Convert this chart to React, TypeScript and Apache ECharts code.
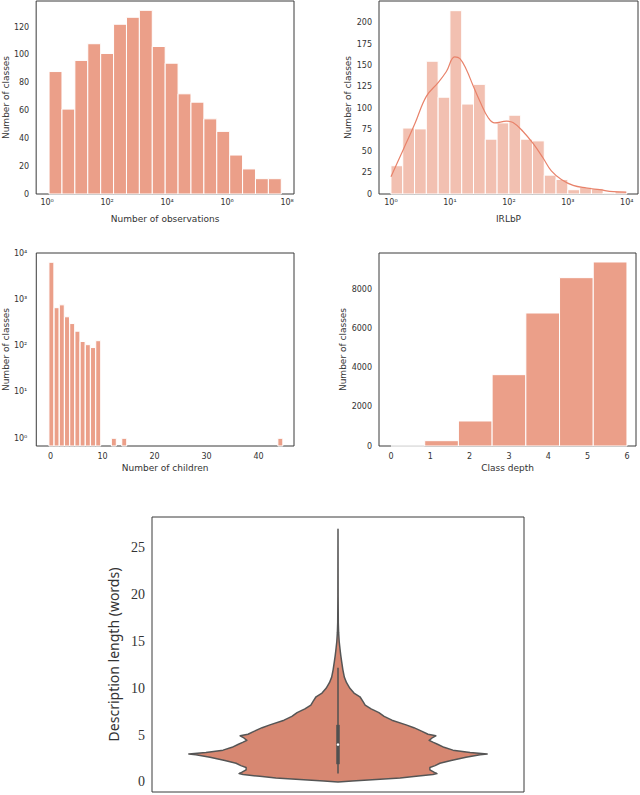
import React, { useEffect, useRef } from "react";
import * as echarts from "echarts";

// ---- Chart 1: Number of observations (log10 bins) ----
const OBS_BIN_START = 0.066;
const OBS_BIN_WIDTH = 0.43;
const OBS_COUNTS = [88, 61, 96, 108, 101, 122, 127, 132, 106, 94, 72, 66, 54, 45, 28, 18, 11, 11];
const OBS_X_TICKS = [0, 2, 4, 6, 8];
const OBS_Y_TICKS = [0, 20, 40, 60, 80, 100, 120];

// ---- Chart 2: IRLbP (log10 bins) with KDE ----
const IRL_BIN_START = 0;
const IRL_BIN_WIDTH = 0.2;
const IRL_COUNTS = [33, 77, 76, 155, 113, 214, 105, 128, 64, 83, 92, 64, 62, 22, 17, 5, 8, 6, 1, 3];
const IRL_KDE_X = [0, 0.21, 0.41, 0.6, 0.8, 0.94, 1.08, 1.17, 1.28, 1.39, 1.51, 1.65, 1.76, 1.96, 2.07, 2.24, 2.41, 2.58, 2.72, 2.89, 3.09, 3.32, 3.54, 3.77, 3.99];
const IRL_KDE_Y = [20, 52, 83, 114, 130, 143, 160, 158, 145, 127, 108, 89, 83, 85, 83.5, 73, 59, 42, 27, 17, 10, 7, 5, 2.7, 2.3];
const IRL_X_TICKS = [0, 1, 2, 3, 4];
const IRL_Y_TICKS = [0, 25, 50, 75, 100, 125, 150, 175, 200];

// ---- Chart 3: Number of children (log y) ----
const CHILDREN = [0, 1, 2, 3, 4, 5, 6, 7, 8, 9, 12, 14, 44];
const CHILDREN_COUNTS = [6300, 660, 760, 420, 300, 205, 123, 105, 91, 128, 1, 1, 1];
const CHILDREN_X_TICKS = [0, 10, 20, 30, 40];
const CHILDREN_Y_TICKS = [0, 1, 2, 3, 4];

// ---- Chart 4: Class depth ----
const DEPTH_MIN = 0;
const DEPTH_MAX = 6;
const DEPTH_COUNTS = [3, 273, 1282, 3658, 6820, 8632, 9436];
const DEPTH_X_TICKS = [0, 1, 2, 3, 4, 5, 6];
const DEPTH_Y_TICKS = [0, 2000, 4000, 6000, 8000];

// ---- Chart 5: Description length violin ----
const VIOLIN_Y = [0, 0.1, 0.2, 0.43, 0.6, 0.8, 0.9, 1.05, 1.3, 1.55, 1.75, 2.0, 2.3, 2.65, 2.9, 3.0, 3.15, 3.4, 3.7, 4.0, 4.25, 4.45, 4.7, 4.93, 5.1, 5.4, 5.8, 6.1, 6.6, 7.0, 7.4, 7.8, 8.2, 8.6, 9.1, 9.5, 10.0, 10.6, 11.2, 12.0, 12.8, 13.5, 14.2, 15.0, 16.0, 17.0, 20.0, 27.0];
const VIOLIN_HALF_WIDTH = [0, 0.038, 0.081, 0.167, 0.21, 0.255, 0.266, 0.258, 0.247, 0.247, 0.261, 0.274, 0.304, 0.344, 0.382, 0.401, 0.355, 0.309, 0.285, 0.269, 0.255, 0.245, 0.253, 0.263, 0.242, 0.226, 0.204, 0.183, 0.145, 0.124, 0.11, 0.089, 0.073, 0.067, 0.059, 0.043, 0.032, 0.023, 0.017, 0.013, 0.01, 0.0075, 0.0054, 0.0032, 0.0016, 0.0008, 0.0003, 0];
const BOX_STATS = [0.9, 1.9, 4.0, 6.1, 12.2]; // whisker low, q1, median, q3, whisker high
const VIOLIN_Y_TICKS = [0, 5, 10, 15, 20, 25];

const BAR = "#EB9F89";
const BAR_LIGHT = "#F2C0B1";
const KDE_LINE = "#E8826A";
const VIOLIN_FILL = "#D78771";
const FRAME = "#3a3a3a";
const TEXT = "#333";
const SANS = "DejaVu Sans";

const SUP: Record<string, string> = { "0": "⁰", "1": "¹", "2": "²", "3": "³", "4": "⁴", "5": "⁵", "6": "⁶", "7": "⁷", "8": "⁸", "9": "⁹" };
const pow10 = (v: number) => "10" + String(Math.round(v)).split("").map((c) => SUP[c]).join("");

function labelOpts(ticks: number[], margin: number, fmt?: (v: number) => string, fontSize = 8, fontFamily = SANS) {
  return {
    show: true,
    customValues: ticks,
    margin,
    fontSize,
    fontFamily,
    color: TEXT,
    formatter: (v: number) => {
      const hit = ticks.some((t) => Math.abs(t - v) < 1e-6);
      if (!hit) return "";
      return fmt ? fmt(v) : String(v);
    },
  };
}

function xAxis(gridIndex: number, min: number, max: number, ticks: number[] | null, name: string, nameGap: number, margin: number, fmt?: (v: number) => string) {
  return {
    type: "value",
    gridIndex,
    min,
    max,
    name,
    nameLocation: "middle",
    nameGap,
    nameTextStyle: { fontSize: 9, fontFamily: SANS, color: TEXT },
    axisLine: { show: false },
    axisTick: { show: false },
    splitLine: { show: false },
    axisLabel: ticks ? labelOpts(ticks, margin, fmt) : { show: false },
  };
}

function yAxis(gridIndex: number, min: number, max: number, ticks: number[], name: string, nameGap: number, margin: number, fmt?: (v: number) => string, fontSize = 8, fontFamily = SANS, nameSize = 9, nameFamily = SANS) {
  return {
    type: "value",
    gridIndex,
    min,
    max,
    name,
    nameLocation: "middle",
    nameGap,
    nameRotate: 90,
    nameTextStyle: { fontSize: nameSize, fontFamily: nameFamily, color: TEXT },
    axisLine: { show: false },
    axisTick: { show: false },
    splitLine: { show: false },
    axisLabel: labelOpts(ticks, margin, fmt, fontSize, fontFamily),
  };
}

function barRender(color: string, base: number) {
  return (_params: any, api: any) => {
    const x0 = api.value(0);
    const x1 = api.value(1);
    const v = api.value(2);
    const tl = api.coord([x0, v]);
    const br = api.coord([x1, base]);
    return {
      type: "rect",
      shape: { x: tl[0], y: tl[1], width: br[0] - tl[0], height: br[1] - tl[1] },
      style: { fill: color, stroke: "#ffffff", lineWidth: 1 },
    };
  };
}

export default function App() {
  const ref = useRef<HTMLDivElement>(null);

  useEffect(() => {
    if (!ref.current) return;
    const chart = echarts.init(ref.current, null, { renderer: "svg" });

    const obsData = OBS_COUNTS.map((c, i) => [OBS_BIN_START + i * OBS_BIN_WIDTH, OBS_BIN_START + (i + 1) * OBS_BIN_WIDTH, c]);
    const irlData = IRL_COUNTS.map((c, i) => [IRL_BIN_START + i * IRL_BIN_WIDTH, IRL_BIN_START + (i + 1) * IRL_BIN_WIDTH, c]);
    const kdeData = IRL_KDE_X.map((x, i) => [x, IRL_KDE_Y[i]]);
    const childMin = -0.166;
    const childData = CHILDREN.map((c, i) => [c - 0.3, c + 0.65, Math.log10(CHILDREN_COUNTS[i])]);
    const depthW = (DEPTH_MAX - DEPTH_MIN) / DEPTH_COUNTS.length;
    const depthData = DEPTH_COUNTS.map((c, i) => [DEPTH_MIN + i * depthW, DEPTH_MIN + (i + 1) * depthW, c]);

    const gridBase = { show: true, borderColor: FRAME, borderWidth: 1, backgroundColor: "transparent", containLabel: false };

    const option: any = {
      animation: false,
      backgroundColor: "#ffffff",
      grid: [
        { ...gridBase, left: 34, top: 1, width: 260, height: 193 },
        { ...gridBase, left: 379, top: 1, width: 259, height: 193 },
        { ...gridBase, left: 34, top: 253, width: 260, height: 193 },
        { ...gridBase, left: 379, top: 253, width: 257, height: 193 },
        { ...gridBase, left: 152, top: 517, width: 372, height: 275 },
      ],
      xAxis: [
        xAxis(0, -0.364, 8.23, OBS_X_TICKS, "Number of observations", 20, 4, pow10),
        xAxis(1, -0.203, 4.19, IRL_X_TICKS, "IRLbP", 20, 4, pow10),
        xAxis(2, -2.73, 46.8, CHILDREN_X_TICKS, "Number of children", 17, 6),
        xAxis(3, -0.305, 6.23, DEPTH_X_TICKS, "Class depth", 17, 6),
        xAxis(4, -0.5, 0.5, null, "", 0, 0),
      ],
      yAxis: [
        yAxis(0, 0, 138.7, OBS_Y_TICKS, "Number of classes", 25, 7),
        yAxis(1, 0, 225.3, IRL_Y_TICKS, "Number of classes", 26, 7),
        yAxis(2, childMin, 4, CHILDREN_Y_TICKS, "Number of classes", 25, 9, pow10),
        yAxis(3, 0, 9897, DEPTH_Y_TICKS, "Number of classes", 31, 7),
        yAxis(4, -1.07, 28.3, VIOLIN_Y_TICKS, "Description length (words)", 28, 7, undefined, 14, "Liberation Serif", 14, "Noto Sans"),
      ],
      series: [
        {
          type: "custom",
          xAxisIndex: 0,
          yAxisIndex: 0,
          data: obsData,
          encode: { x: [0, 1], y: 2 },
          renderItem: barRender(BAR, 0),
        },
        {
          type: "custom",
          xAxisIndex: 1,
          yAxisIndex: 1,
          data: irlData,
          encode: { x: [0, 1], y: 2 },
          renderItem: barRender(BAR_LIGHT, 0),
        },
        {
          type: "line",
          xAxisIndex: 1,
          yAxisIndex: 1,
          data: kdeData,
          smooth: 0.4,
          showSymbol: false,
          symbol: "none",
          lineStyle: { color: KDE_LINE, width: 1.2 },
          z: 5,
        },
        {
          type: "custom",
          xAxisIndex: 2,
          yAxisIndex: 2,
          data: childData,
          encode: { x: [0, 1], y: 2 },
          renderItem: barRender(BAR, childMin),
        },
        {
          type: "custom",
          xAxisIndex: 3,
          yAxisIndex: 3,
          data: depthData,
          encode: { x: [0, 1], y: 2 },
          renderItem: barRender(BAR, 0),
        },
        {
          type: "custom",
          xAxisIndex: 4,
          yAxisIndex: 4,
          data: [[0, BOX_STATS[2]]],
          encode: { x: 0, y: 1 },
          renderItem: (_params: any, api: any) => {
            const right = VIOLIN_Y.map((y, i) => api.coord([VIOLIN_HALF_WIDTH[i], y]));
            const left = VIOLIN_Y.map((y, i) => api.coord([-VIOLIN_HALF_WIDTH[i], y])).reverse();
            const pts = right.concat(left);
            const [lo, q1, med, q3, hi] = BOX_STATS;
            const pLo = api.coord([0, lo]);
            const pHi = api.coord([0, hi]);
            const pQ1 = api.coord([0, q1]);
            const pQ3 = api.coord([0, q3]);
            const pMed = api.coord([0, med]);
            return {
              type: "group",
              children: [
                { type: "polygon", shape: { points: pts }, style: { fill: VIOLIN_FILL, stroke: "#555555", lineWidth: 1.5, lineJoin: "round" } },
                { type: "line", shape: { x1: pLo[0], y1: pLo[1], x2: pHi[0], y2: pHi[1] }, style: { stroke: "#505050", lineWidth: 1.5 } },
                { type: "line", shape: { x1: pQ1[0], y1: pQ1[1], x2: pQ3[0], y2: pQ3[1] }, style: { stroke: "#505050", lineWidth: 3.5 } },
                { type: "circle", shape: { cx: pMed[0], cy: pMed[1], r: 1.3 }, style: { fill: "#ffffff" } },
              ],
            };
          },
        },
      ],
    };

    chart.setOption(option);
    return () => chart.dispose();
  }, []);

  return <div ref={ref} style={{ position: "absolute", left: 0, top: 0, width: 640, height: 795 }} />;
}
